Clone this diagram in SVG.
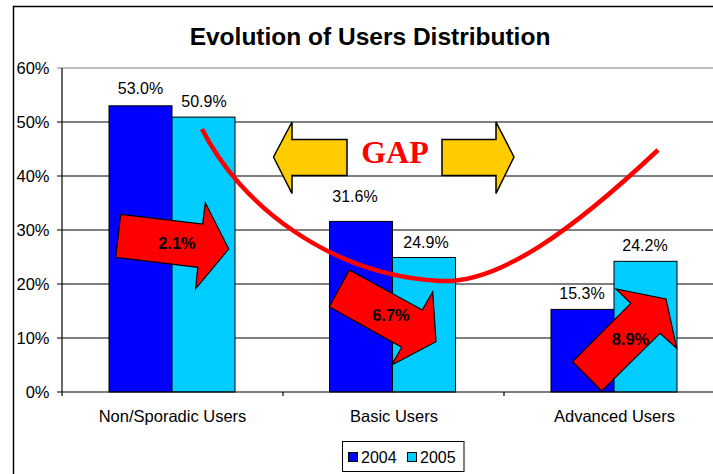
<svg xmlns="http://www.w3.org/2000/svg" width="713" height="474" viewBox="0 0 713 474">
<style>
text{font-family:"Liberation Sans",Arial,sans-serif;fill:#000}
.grid{stroke:#000;stroke-width:1}
.b04{fill:#0000FF;stroke:#000;stroke-width:1}
.b05{fill:#00CCFF;stroke:#000;stroke-width:1}
.val{font-size:16px;text-anchor:middle}
.ylab{font-size:16.5px;text-anchor:end}
.cat{font-size:16.5px;text-anchor:middle}
.red{fill:#FF0000;stroke:#000;stroke-width:1.2;stroke-linejoin:miter}
.pct{font-size:16.5px;font-weight:bold;text-anchor:middle}
.gap{fill:#FFCC00;stroke:#000;stroke-width:1.5}
text.gaptxt{font-family:"Liberation Serif","Times New Roman",serif;font-size:32px;font-weight:bold;text-anchor:middle;fill:#FF0000}
</style>
<rect x="0" y="0" width="713" height="474" fill="#fff"/>
<rect id="frame" x="13.5" y="6.5" width="730" height="490" fill="#fff" stroke="#000" stroke-width="1.5"/>
<text id="title" x="370" y="45" font-size="24.5" font-weight="bold" text-anchor="middle">Evolution of Users Distribution</text>
<g id="grid">
<line x1="57" y1="68" x2="713" y2="68" stroke="#808080" stroke-width="1"/>
<line class="grid" x1="57" y1="122" x2="713" y2="122"/>
<line class="grid" x1="57" y1="176" x2="713" y2="176"/>
<line class="grid" x1="57" y1="230" x2="713" y2="230"/>
<line class="grid" x1="57" y1="284" x2="713" y2="284"/>
<line class="grid" x1="57" y1="338" x2="713" y2="338"/>
</g>
<g id="ylabels">
<text class="ylab" x="49.5" y="74">60%</text>
<text class="ylab" x="49.5" y="128">50%</text>
<text class="ylab" x="49.5" y="182">40%</text>
<text class="ylab" x="49.5" y="236">30%</text>
<text class="ylab" x="49.5" y="290">20%</text>
<text class="ylab" x="49.5" y="344">10%</text>
<text class="ylab" x="49.5" y="398">0%</text>
</g>
<g id="bars">
<rect class="b04" x="109" y="105.8" width="63" height="286.2"/>
<rect class="b05" x="172" y="117.1" width="63" height="274.9"/>
<rect class="b04" x="329.5" y="221.4" width="63" height="170.6"/>
<rect class="b05" x="392.5" y="257.5" width="63" height="134.5"/>
<rect class="b04" x="551" y="309.4" width="63" height="82.6"/>
<rect class="b05" x="614" y="261.3" width="63" height="130.7"/>
</g>
<g id="axes" stroke="#000" stroke-width="1.2">
<line x1="62" y1="68" x2="62" y2="396"/>
<line x1="57" y1="392" x2="713" y2="392"/>
<line x1="283" y1="392" x2="283" y2="396"/>
<line x1="504" y1="392" x2="504" y2="396"/>
</g>
<g id="values">
<text class="val" x="140.5" y="94">53.0%</text>
<text class="val" x="204" y="107">50.9%</text>
<text class="val" x="355" y="202">31.6%</text>
<text class="val" x="426" y="248">24.9%</text>
<text class="val" x="582" y="299">15.3%</text>
<text class="val" x="645" y="251">24.2%</text>
</g>
<g id="categories">
<text class="cat" x="172.5" y="422">Non/Sporadic Users</text>
<text class="cat" x="394" y="422">Basic Users</text>
<text class="cat" x="614.5" y="422">Advanced Users</text>
</g>
<g id="gap-arrows">
<polygon class="gap" points="273.5,157 292,122 292,139.5 347,139.5 347,175.5 292,175.5 292,193.5"/>
<polygon class="gap" points="514,157 496,122 496,139.5 442,139.5 442,175.5 496,175.5 496,193.5"/>
<text id="gap-label" class="gaptxt" x="395" y="163">GAP</text>
</g>
<g id="change-arrows">
<polygon class="red" points="120.7,214.3 202.7,224 205.3,202.7 228.7,249 195.7,288.7 197.7,267.3 115.7,257.3"/>
<text class="pct" x="177" y="249">2.1%</text>
<polygon class="red" points="349.3,270 422.3,310 432.7,291.7 436,341.7 391.7,365 401.7,347.3 329.3,306.7"/>
<text class="pct" x="391" y="321">6.7%</text>
<polygon class="red" points="601.7,391 572.7,361.7 630.7,303.3 616,289 666,299 676.7,348.3 660,333.3"/>
<text class="pct" x="630.5" y="345">8.9%</text>
</g>
<g id="connectors">
<path d="M202,129 C240,205 330,275 440,281 C500,284 575,228 658,150" fill="none" stroke="#FF0000" stroke-width="4.5" stroke-linecap="butt"/>
</g>
<g id="legend">
<rect x="342.5" y="441.5" width="121.5" height="30" fill="#fff" stroke="#000" stroke-width="1"/>
<rect x="348.5" y="452.5" width="9" height="9" fill="#0000FF" stroke="#000" stroke-width="1"/>
<text x="361" y="463" font-size="16">2004</text>
<rect x="407.5" y="452.5" width="9" height="9" fill="#00CCFF" stroke="#000" stroke-width="1"/>
<text x="420" y="463" font-size="16">2005</text>
</g>
</svg>
